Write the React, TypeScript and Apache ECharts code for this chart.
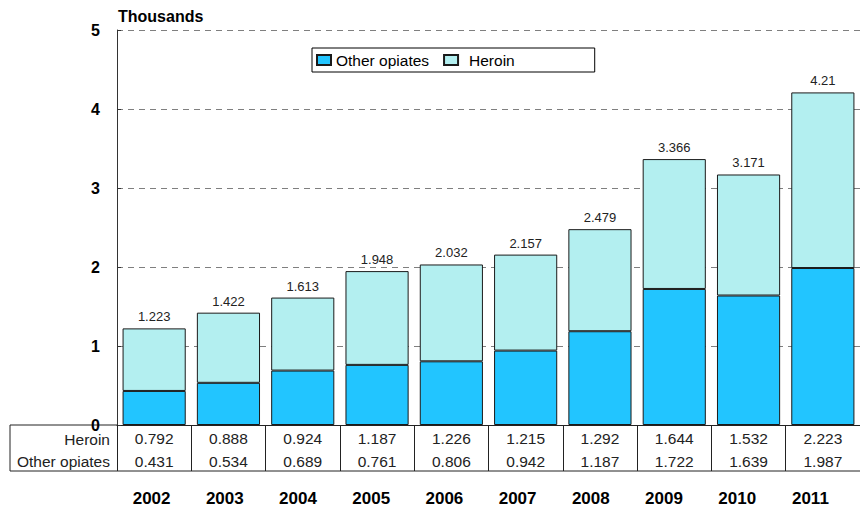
import React, { useEffect, useRef } from "react";
import * as echarts from "echarts";

const years = ["2002", "2003", "2004", "2005", "2006", "2007", "2008", "2009", "2010", "2011"];
const heroin = [0.792, 0.888, 0.924, 1.187, 1.226, 1.215, 1.292, 1.644, 1.532, 2.223];
const otherOpiates = [0.431, 0.534, 0.689, 0.761, 0.806, 0.942, 1.187, 1.722, 1.639, 1.987];
const totalLabels = ["1.223", "1.422", "1.613", "1.948", "2.032", "2.157", "2.479", "3.366", "3.171", "4.21"];
const yTicks = [0, 1, 2, 3, 4, 5];

const FONT = "'Liberation Sans', Arial, sans-serif";

export default function App() {
  const ref = useRef<HTMLDivElement>(null);
  useEffect(() => {
    if (!ref.current) return;
    const chart = echarts.init(ref.current, null, { renderer: "svg" });
    const option = {
      animation: false,
      backgroundColor: "#ffffff",
      textStyle: { fontFamily: FONT },
      legend: {
        left: 312,
        top: 48,
        orient: "horizontal",
        icon: "rect",
        backgroundColor: "#ffffff",
        borderColor: "#000000",
        borderWidth: 1,
        padding: [4, 80, 4, 4],
        itemWidth: 14,
        itemHeight: 10,
        itemGap: 14,
        data: ["Other opiates", "Heroin"],
        formatter: (name: string) => (name === "Heroin" ? "{h|Heroin}" : name),
        textStyle: {
          fontFamily: FONT,
          fontSize: 15.5,
          color: "#000",
          rich: { h: { fontFamily: FONT, fontSize: 15.5, color: "#000", padding: [0, 0, 0, 6] } },
        },
      },
      grid: [
        { left: 117, top: 30, width: 755, height: 395 },
        { left: 115, top: 480, width: 732, height: 5 },
      ],
      xAxis: [
        {
          type: "category",
          gridIndex: 0,
          data: years,
          axisLine: { show: true, lineStyle: { color: "#222", width: 1 } },
          axisTick: { show: true, inside: false, length: 46, alignWithLabel: false, lineStyle: { color: "#222" } },
          axisLabel: {
            show: true,
            interval: 0,
            margin: 1.5,
            formatter: (_v: string, i: number) => `{a|${heroin[i].toFixed(3)}}\n{a|${otherOpiates[i].toFixed(3)}}`,
            rich: { a: { fontFamily: FONT, fontSize: 15.5, color: "#222", lineHeight: 23 } },
          },
        },
        {
          type: "category",
          gridIndex: 1,
          data: years,
          axisLine: { show: false },
          axisTick: { show: false },
          axisLabel: { show: true, interval: 0, margin: 4.5, fontFamily: FONT, fontSize: 17, fontWeight: "bold", color: "#000" },
        },
      ],
      yAxis: [
        {
          type: "value",
          gridIndex: 0,
          min: yTicks[0],
          max: yTicks[yTicks.length - 1],
          interval: 1,
          axisLine: { show: true, lineStyle: { color: "#333", width: 1 } },
          axisTick: { show: true, inside: true, length: 4, lineStyle: { color: "#333" } },
          axisLabel: { margin: 17, fontFamily: FONT, fontSize: 16, fontWeight: "bold", color: "#000" },
          splitLine: { show: true, lineStyle: { color: "#7f7f7f", type: [6, 5], width: 1 } },
        },
        { type: "value", gridIndex: 1, show: false },
      ],
      series: [
        {
          name: "Other opiates",
          type: "bar",
          stack: "total",
          xAxisIndex: 0,
          yAxisIndex: 0,
          barWidth: "85%",
          data: otherOpiates,
          itemStyle: { color: "#22c5ff", borderColor: "#1a1a1a", borderWidth: 1 },
        },
        {
          name: "Heroin",
          type: "bar",
          stack: "total",
          xAxisIndex: 0,
          yAxisIndex: 0,
          barWidth: "85%",
          data: heroin,
          itemStyle: { color: "#b3eff0", borderColor: "#1a1a1a", borderWidth: 1 },
          label: {
            show: true,
            position: "top",
            distance: 5,
            fontFamily: FONT,
            fontSize: 13,
            color: "#222",
            formatter: (p: any) => totalLabels[p.dataIndex],
          },
        },
      ],
      graphic: [
        {
          type: "text",
          left: 118,
          top: 8,
          style: { text: "Thousands", fontFamily: FONT, fontSize: 16, fontWeight: "bold", fill: "#000" },
        },
        {
          type: "text",
          x: 110,
          y: 439,
          style: { text: "Heroin", fontFamily: FONT, fontSize: 15.5, fill: "#222", align: "right", verticalAlign: "middle" },
        },
        {
          type: "text",
          x: 110,
          y: 461,
          style: { text: "Other opiates", fontFamily: FONT, fontSize: 15.5, fill: "#222", align: "right", verticalAlign: "middle" },
        },
        { type: "line", shape: { x1: 10, y1: 425, x2: 117, y2: 425 }, style: { stroke: "#222", lineWidth: 1 } },
        { type: "line", shape: { x1: 10, y1: 471, x2: 872, y2: 471 }, style: { stroke: "#222", lineWidth: 1 } },
        { type: "line", shape: { x1: 10, y1: 425, x2: 10, y2: 471 }, style: { stroke: "#222", lineWidth: 1 } },
      ],
    };
    chart.setOption(option as any);
    return () => chart.dispose();
  }, []);
  return <div ref={ref} style={{ position: "fixed", left: 0, top: 0, width: 860, height: 510 }} />;
}
